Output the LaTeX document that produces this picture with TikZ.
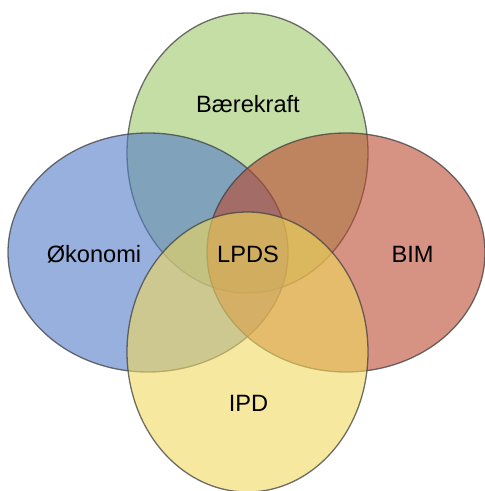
\documentclass[tikz,border=0pt]{standalone}
\usepackage{fontspec}
\setmainfont{Liberation Sans}
\definecolor{greenset}{RGB}{158,200,107}
\definecolor{blueset}{RGB}{83,123,200}
\definecolor{redset}{RGB}{187,73,48}
\definecolor{yellowset}{RGB}{240,217,93}
\begin{document}
\begin{tikzpicture}[
    x=0.5pt, y=-0.5pt, % one unit is one pixel of the reference
    every node/.style={font={\fontsize{11.8}{14}\selectfont}}, % sets the font of each label
    circ/.style={draw=black!75, draw opacity=0.75, line width=0.65pt, fill opacity=0.6} % each set of the diagram
  ]
  \useasboundingbox (0,0) rectangle (484,491);

  \fill[circ, fill=greenset] (247.5,153) ellipse [x radius=120.5, y radius=140];
  \fill[circ, fill=blueset] (148,252.5) ellipse [x radius=140, y radius=119.5];
  \fill[circ, fill=redset] (346,252.5) ellipse [x radius=139, y radius=119.5];
  \fill[circ, fill=yellowset] (247.5,352) ellipse [x radius=120.5, y radius=140];

  \node (baerekraft) at (248,104) {Bærekraft};
  \node (okonomi) at (94,254) {Økonomi};
  \node (lpds) at (248,254) {LPDS};
  \node (bim) at (412.5,254) {BIM};
  \node (ipd) at (248.5,403.5) {IPD};

\end{tikzpicture}
\end{document}
